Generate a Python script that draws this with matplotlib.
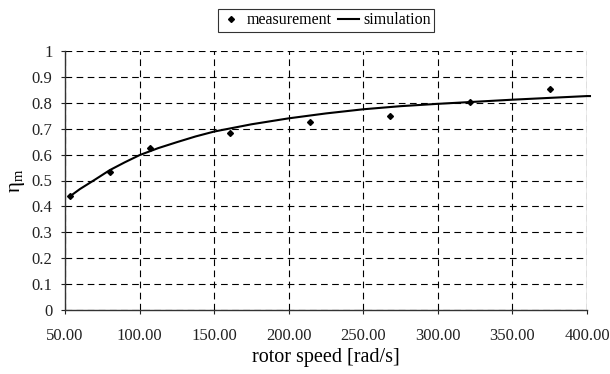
import matplotlib
matplotlib.use("Agg")
import matplotlib.pyplot as plt

# Measured mechanical efficiency at discrete rotor speeds
meas_speed = [53.6, 80.4, 107.2, 160.8, 214.4, 268.0, 321.6, 375.2]
meas_eta = [0.440, 0.533, 0.625, 0.685, 0.726, 0.750, 0.804, 0.853]

# Simulated efficiency curve
sim_speed = [53.6, 60, 70, 80, 90, 100, 112.5, 125, 137.5, 150, 175, 200,
             225, 250, 275, 300, 325, 350, 375, 400, 402]
sim_eta = [0.440, 0.467, 0.503, 0.540, 0.570, 0.598, 0.625, 0.648, 0.670,
           0.689, 0.717, 0.740, 0.759, 0.775, 0.787, 0.796, 0.804, 0.812,
           0.819, 0.826, 0.826]

x_ticks = [50, 100, 150, 200, 250, 300, 350, 400]
y_ticks = [0, 0.1, 0.2, 0.3, 0.4, 0.5, 0.6, 0.7, 0.8, 0.9, 1]

plt.rcParams['font.family'] = ['Liberation Serif', 'DejaVu Serif']
plt.rcParams['mathtext.fontset'] = 'custom'
plt.rcParams['mathtext.rm'] = 'Liberation Serif'
plt.rcParams['mathtext.it'] = 'Liberation Serif'
plt.rcParams['mathtext.default'] = 'regular'

fig = plt.figure(figsize=(6.10, 3.74), dpi=100)
ax = fig.add_axes([65 / 610, 1 - 310 / 374, (587 - 65) / 610, (310 - 51) / 374])

ax.plot(meas_speed, meas_eta, linestyle='none', marker='D', markersize=3.0,
        color='black', label='measurement', zorder=3)
ax.plot(sim_speed, sim_eta, color='black', linewidth=1.5, label='simulation',
        zorder=3, clip_on=False)

ax.set_xlim(50, 400)
ax.set_ylim(0, 1)
ax.set_xticks(x_ticks)
ax.set_xticklabels([f"{v:.2f}" for v in x_ticks])
ax.set_yticks(y_ticks)
ax.set_yticklabels([f"{v:g}" for v in y_ticks])

ax.grid(True, color='black', linestyle=(0, (6, 4)), linewidth=0.8)
ax.set_axisbelow(True)

for side in ('top', 'right'):
    ax.spines[side].set_visible(False)
for side in ('left', 'bottom'):
    ax.spines[side].set_linewidth(1.0)
    ax.spines[side].set_color('#333333')
ax.axvline(400, color='#999999', linewidth=1.0, zorder=1)

ax.tick_params(axis='both', direction='out', length=3, width=0.8,
               labelsize=12, colors='#222222')
ax.tick_params(axis='x', pad=10)
ax.tick_params(axis='y', pad=6)

ax.set_xlabel('rotor speed [rad/s]', fontsize=14.5, labelpad=3)
ax.set_ylabel(r'$\eta_{m}$', fontsize=15, labelpad=3)

leg = ax.legend(loc='lower center', bbox_to_anchor=(0.5, 1.075), ncol=2,
                frameon=True, fancybox=False, edgecolor='black',
                fontsize=11.5, handlelength=1.3, handletextpad=0.3,
                columnspacing=0.4, borderpad=0.2, borderaxespad=0)
leg.get_frame().set_linewidth(0.8)

fig.savefig('out.png', dpi=100)
